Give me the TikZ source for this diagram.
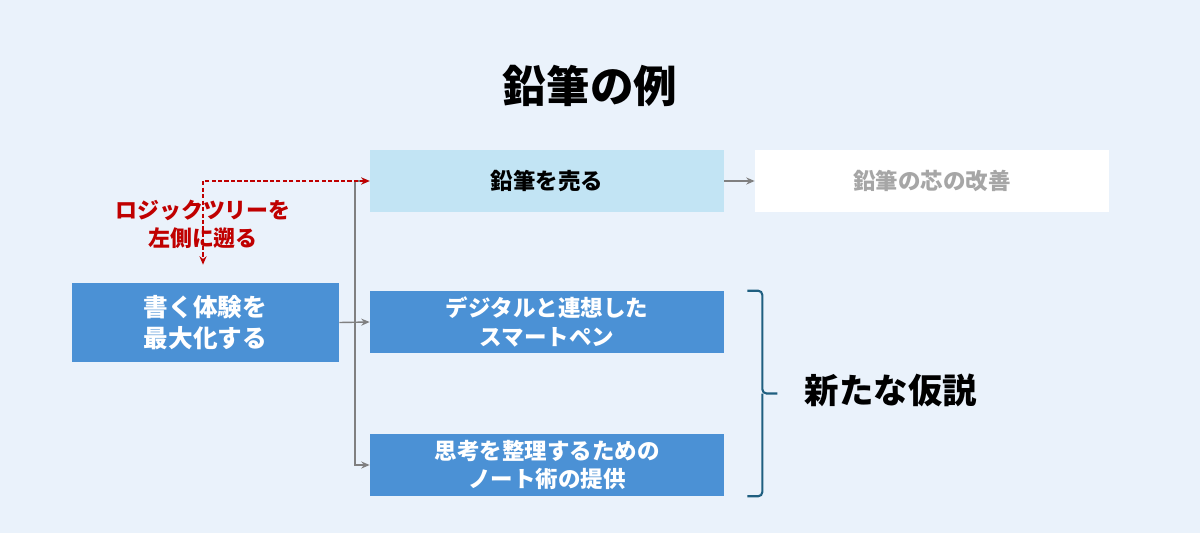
\documentclass[tikz,border=0pt]{standalone}
\usepackage{fontspec}
\setmainfont{Noto Sans CJK JP}
\usetikzlibrary{arrows.meta, calc}

\definecolor{bgblue}{HTML}{EAF2FB}
\definecolor{paleblue}{HTML}{C2E4F4}
\definecolor{midblue}{HTML}{4B91D5}
\definecolor{linegray}{HTML}{808080}
\definecolor{textgray}{HTML}{A6A6A6}
\definecolor{backred}{HTML}{C00000}
\definecolor{bracecol}{HTML}{1F5F80}

\begin{document}
\begin{tikzpicture}[x=0.025cm, y=-0.025cm, every text node part/.style={align=center}]

\tikzstyle{box}=[rectangle, inner sep=0pt, minimum width=8.85cm, minimum height=1.55cm, font=\bfseries\fontsize{16}{20.5}\selectfont]
\tikzstyle{bluebox}=[box, fill=midblue, text=white]
\tikzstyle{edge}=[draw, linegray, line width=1pt, -{Stealth[length=6pt, width=5pt]}]
\tikzstyle{backedge}=[draw, backred, line width=1.4pt, dash pattern=on 3pt off 1.6pt, {Stealth[length=6pt, width=5pt]}-{Stealth[length=6pt, width=5pt]}]

\useasboundingbox (0, 0) rectangle (1200, 532);
\fill [bgblue] (-10, -10) rectangle (1210, 542);

\node (title) at (590, 86) {\bfseries\fontsize{31}{36}\selectfont 鉛筆の例};

\node [box, fill=paleblue] (sell) at (547, 181) {鉛筆を売る};
\node [box, fill=white, text=textgray] (core) at (932, 181) {鉛筆の芯の改善};

\node [bluebox, minimum width=6.675cm, minimum height=1.975cm,
       font=\bfseries\fontsize{17.5}{22}\selectfont] (root) at (205.5, 322.5) {書く体験を\\最大化する};
\node [bluebox] (pen)  at (547, 322) {デジタルと連想した\\スマートペン};
\node [bluebox] (note) at (547, 465) {思考を整理するための\\ノート術の提供};

\coordinate (split) at (355, 322);
\coordinate (turn)  at (203, 181);

\path [edge] (root.east) -- (pen.west);
\path [edge] (split) |- (sell.west);
\path [edge] (split) |- (note.west);
\path [edge] (sell.east) -- (core.west);

\path [backedge, shorten >=0.45cm] (sell.west) -- (turn) -- (turn |- root.north);
\node [text=backred, font=\bfseries\fontsize{15.6}{20}\selectfont] (back) at (203, 224) {ロジックツリーを\\左側に遡る};

% brace
\coordinate (btop) at ($(pen.north east)+(23, 0)$);
\coordinate (bbot) at ($(note.south east)+(23, 0)$);
\coordinate (btip) at ($(btop)!0.5!(bbot)+(30, 0)$);
\draw [bracecol, line width=1.5pt, rounded corners=3pt]
  (btop) -| ($(btip)+(-15, 0)$) -- (btip);
\draw [bracecol, line width=1.5pt, rounded corners=3pt]
  (bbot) -| ($(btip)+(-15, 0)$);
\node [anchor=west, font=\bfseries\fontsize{24.5}{28}\selectfont] (hypo) at (800, 390) {新たな仮説};

\end{tikzpicture}
\end{document}
